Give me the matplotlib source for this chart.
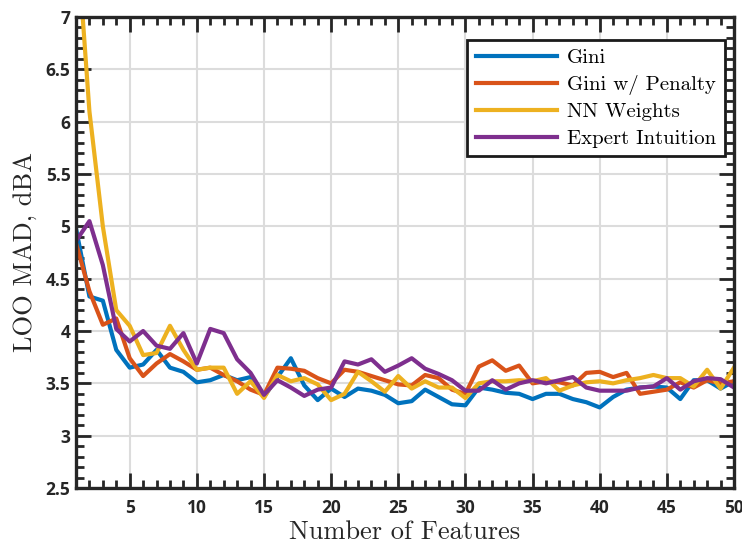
import numpy as np
import matplotlib.pyplot as plt
from matplotlib.ticker import MultipleLocator

features = np.arange(1, 51)

gini = [4.98, 4.33, 4.29, 3.82, 3.65, 3.68, 3.82, 3.65, 3.61, 3.51,
        3.53, 3.58, 3.53, 3.56, 3.37, 3.56, 3.74, 3.48, 3.34, 3.45,
        3.37, 3.45, 3.43, 3.39, 3.31, 3.33, 3.44, 3.37, 3.30, 3.29,
        3.46, 3.44, 3.41, 3.40, 3.35, 3.40, 3.40, 3.35, 3.32, 3.27,
        3.37, 3.44, 3.46, 3.47, 3.46, 3.35, 3.53, 3.53, 3.45, 3.52]

gini_penalty = [4.84, 4.38, 4.06, 4.12, 3.74, 3.57, 3.69, 3.78, 3.71, 3.63,
                3.65, 3.58, 3.52, 3.44, 3.39, 3.65, 3.64, 3.62, 3.55, 3.50,
                3.63, 3.61, 3.57, 3.53, 3.49, 3.48, 3.58, 3.55, 3.44, 3.40,
                3.66, 3.72, 3.62, 3.67, 3.50, 3.52, 3.51, 3.48, 3.60, 3.61,
                3.56, 3.60, 3.40, 3.42, 3.44, 3.51, 3.46, 3.53, 3.50, 3.52]

nn_weights = [7.9, 6.1, 5.0, 4.2, 4.05, 3.77, 3.79, 4.05, 3.82, 3.63,
              3.65, 3.65, 3.40, 3.52, 3.36, 3.58, 3.52, 3.55, 3.49, 3.34,
              3.40, 3.61, 3.52, 3.42, 3.57, 3.45, 3.52, 3.46, 3.46, 3.36,
              3.50, 3.52, 3.52, 3.53, 3.52, 3.55, 3.43, 3.48, 3.51, 3.52,
              3.50, 3.53, 3.55, 3.58, 3.55, 3.55, 3.47, 3.63, 3.45, 3.65]

expert = [4.86, 5.05, 4.63, 4.02, 3.90, 4.00, 3.86, 3.83, 3.98, 3.69,
          4.02, 3.98, 3.73, 3.60, 3.39, 3.53, 3.46, 3.38, 3.44, 3.46,
          3.71, 3.68, 3.73, 3.61, 3.67, 3.74, 3.64, 3.59, 3.53, 3.43,
          3.43, 3.53, 3.44, 3.50, 3.53, 3.50, 3.53, 3.56, 3.46, 3.43,
          3.43, 3.43, 3.46, 3.47, 3.55, 3.44, 3.52, 3.55, 3.54, 3.46]

series = [
    ("Gini", gini, "#0072BD"),
    ("Gini w/ Penalty", gini_penalty, "#D95319"),
    ("NN Weights", nn_weights, "#EDB120"),
    ("Expert Intuition", expert, "#7E2F8E"),
]

serif = "cmr10"
tick_font = ["Liberation Sans Narrow", "Open Sans", "DejaVu Sans"]
dark = "#262626"

fig = plt.figure(figsize=(7.42, 5.44), dpi=100)
ax = fig.add_axes([0.1024, 0.1029, 0.8868, 0.8658])

for name, vals, col in series:
    ax.plot(features, vals, color=col, lw=3, label=name)

ax.set_xlim(1, 50)
ax.set_ylim(2.5, 7)
ax.xaxis.set_major_locator(MultipleLocator(5))
ax.xaxis.set_minor_locator(MultipleLocator(1))
ax.yaxis.set_minor_locator(MultipleLocator(0.1))
ax.set_yticks(np.arange(2.5, 7.01, 0.5))
ax.set_yticklabels(["2.5", "3", "3.5", "4", "4.5", "5", "5.5", "6", "6.5", "7"])

ax.grid(True, which="major", color="#dcdcdc", lw=1.5)
ax.set_axisbelow(True)

for sp in ax.spines.values():
    sp.set_linewidth(2.4)
    sp.set_color(dark)

ax.tick_params(which="both", direction="in", top=True, right=True,
               color=dark, width=2)
ax.tick_params(which="major", length=11)
ax.tick_params(which="minor", length=6)
ax.tick_params(axis="x", which="major", pad=8)
ax.tick_params(axis="y", which="major", pad=4)
for lbl in ax.get_xticklabels() + ax.get_yticklabels():
    lbl.set_family(tick_font)
    lbl.set_fontweight("bold")
    lbl.set_fontsize(12.5)
    lbl.set_color(dark)

ax.set_xlabel("Number of Features", family=serif, fontsize=19, color=dark, labelpad=2)
ax.set_ylabel("LOO MAD, dBA", family=serif, fontsize=19, color=dark, labelpad=6)

leg = ax.legend(loc="upper right", bbox_to_anchor=(0.986, 0.951), borderaxespad=0,
                prop={"family": serif, "size": 15}, frameon=True, fancybox=False,
                handlelength=3.9, handletextpad=0.5, labelspacing=0.38,
                borderpad=0.4)
leg.get_frame().set_edgecolor("#1a1a1a")
leg.get_frame().set_linewidth(2)
leg.get_frame().set_alpha(1)

fig.savefig("out.png", dpi=100)
